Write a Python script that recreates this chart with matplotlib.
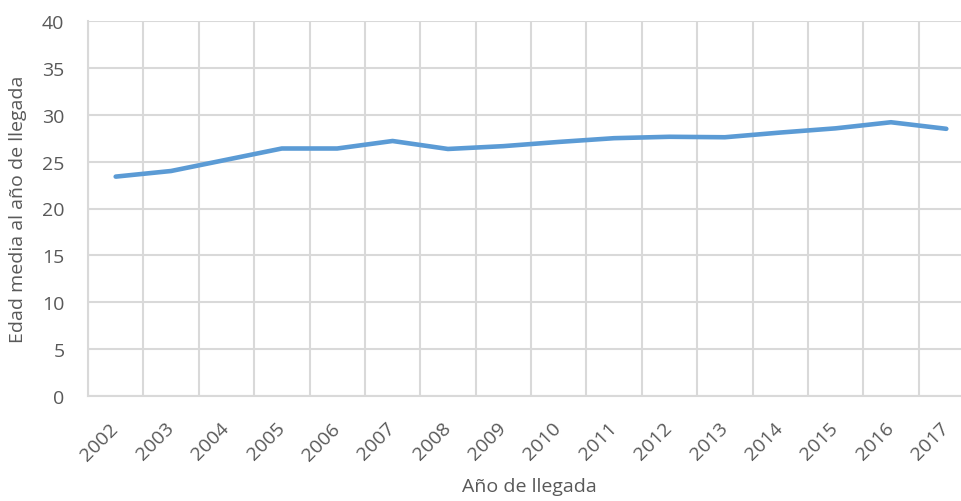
import numpy as np
import matplotlib
matplotlib.use('Agg')
import matplotlib.pyplot as plt
from matplotlib.ticker import MultipleLocator

# data
years = ['2002', '2003', '2004', '2005', '2006', '2007', '2008', '2009',
         '2010', '2011', '2012', '2013', '2014', '2015', '2016', '2017']
edad_media = [23.4, 24.0, 25.2, 26.4, 26.4, 27.2, 26.35, 26.65,
              27.1, 27.5, 27.65, 27.6, 28.1, 28.55, 29.2, 28.5]

plt.rcParams['font.family'] = ['Open Sans', 'DejaVu Sans']

text_col = '#595959'
grid_col = '#d9d9d9'
line_col = '#5b9bd5'
fs = 14

fig = plt.figure(figsize=(9.62, 5.02), dpi=100)
# plot area runs a bit past the right edge of the picture, as in the reference
ax = fig.add_axes([88 / 962, 1 - 397 / 502, (974 - 88) / 962, (397 - 22) / 502])

x = np.arange(len(years))
ax.plot(x, edad_media, color=line_col, lw=3.3, solid_capstyle='round',
        solid_joinstyle='round', zorder=3)

ax.set_xlim(-0.5, len(years) - 0.5)
ax.set_ylim(0, 40)
ax.yaxis.set_major_locator(MultipleLocator(5))

ax.set_xticks(x)
ax.set_xticklabels(years, rotation=45, ha='right', va='center',
                   rotation_mode='anchor')
ax.set_xticks(np.arange(-0.5, len(years), 1), minor=True)

ax.grid(True, which='major', axis='y', color=grid_col, lw=1.5)
ax.grid(True, which='minor', axis='x', color=grid_col, lw=1.5)
ax.set_axisbelow(True)

for s in ['top', 'right']:
    ax.spines[s].set_visible(False)
for s in ['left', 'bottom']:
    ax.spines[s].set_color(grid_col)
    ax.spines[s].set_linewidth(1.5)

ax.tick_params(axis='both', which='both', length=0, labelsize=fs,
               labelcolor=text_col)
ax.tick_params(axis='x', pad=21)
ax.tick_params(axis='y', pad=17)

fig.text(18 / 962, 1 - 209 / 502, 'Edad media al año de llegada', fontsize=fs,
         color=text_col, ha='center', va='center', rotation=90)
fig.text(529 / 962, 1 - 487 / 502, 'Año de llegada', fontsize=fs,
         color=text_col, ha='center', va='center')

fig.savefig('out.png', dpi=100, facecolor='white')
